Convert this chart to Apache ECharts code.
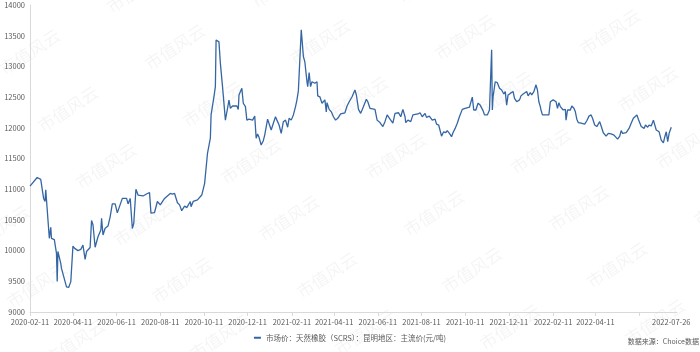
<!DOCTYPE html>
<html>
<head>
<meta charset="utf-8">
<script src="https://cdn.jsdelivr.net/npm/echarts@6/dist/echarts.min.js"></script>
<style>
  html, body { margin: 0; padding: 0; background: #fff; }
  #chart { width: 700px; height: 352px; }
</style>
</head>
<body>
<div id="chart"></div>
<script>
const seriesName = '市场价：天然橡胶（SCRS）：昆明地区：主流价(元/吨)'
const sourceText = '数据来源：Choice数据'
const watermarkText = '市值风云'

const firstDay = '2020-02-11'
const lastDay = '2022-08-03'

// ticks every two months, the last one has no label (the end date is shown instead)
const tickDates = [
  '2020-02-11', '2020-04-11', '2020-06-11', '2020-08-11', '2020-10-11', '2020-12-11',
  '2021-02-11', '2021-04-11', '2021-06-11', '2021-08-11', '2021-10-11', '2021-12-11',
  '2022-02-11', '2022-04-11', '2022-06-11'
]
const labelDates = [
  '2020-02-11', '2020-04-11', '2020-06-11', '2020-08-11', '2020-10-11', '2020-12-11',
  '2021-02-11', '2021-04-11', '2021-06-11', '2021-08-11', '2021-10-11', '2021-12-11',
  '2022-02-11', '2022-04-11', '2022-07-26'
]

const yMin = 9000
const yMax = 14000
const yStep = 500

// 昆明 SCRS 主流价
const prices = [
  ['2020-02-11', 11050], ['2020-02-21', 11190], ['2020-02-26', 11160], ['2020-02-28', 11150], ['2020-03-01', 10850],
  ['2020-03-03', 10800], ['2020-03-04', 10990], ['2020-03-09', 10200], ['2020-03-11', 10380], ['2020-03-12', 10200],
  ['2020-03-16', 10180], ['2020-03-19', 9955], ['2020-03-20', 9495], ['2020-03-21', 9985], ['2020-03-25', 9793],
  ['2020-03-26', 9710], ['2020-03-28', 9740], ['2020-03-31', 9495], ['2020-04-02', 9410], ['2020-04-04', 9440],
  ['2020-04-05', 9400], ['2020-04-08', 9495], ['2020-04-11', 10075], ['2020-04-13', 10040], ['2020-04-18', 10000],
  ['2020-04-22', 10020], ['2020-04-24', 10000], ['2020-04-25', 10090], ['2020-04-27', 10075], ['2020-04-28', 9858],
  ['2020-04-30', 9985], ['2020-05-05', 10050], ['2020-05-07', 10490], ['2020-05-09', 10420], ['2020-05-10', 10445],
  ['2020-05-12', 10055], ['2020-05-16', 10225], ['2020-05-20', 10335], ['2020-05-21', 10525], ['2020-05-23', 10255],
  ['2020-05-26', 10365], ['2020-05-30', 10400], ['2020-06-02', 10550], ['2020-06-05', 10760], ['2020-06-09', 10760],
  ['2020-06-12', 10615], ['2020-06-19', 10850], ['2020-06-25', 10850], ['2020-06-27', 10760], ['2020-06-30', 10850],
  ['2020-07-03', 10360], ['2020-07-05', 10445], ['2020-07-08', 11000], ['2020-07-11', 10905], ['2020-07-18', 10890],
  ['2020-07-20', 10880], ['2020-07-24', 10930], ['2020-07-27', 10945], ['2020-07-29', 10610], ['2020-08-03', 10620],
  ['2020-08-07', 10800], ['2020-08-11', 10745], ['2020-08-17', 10850], ['2020-08-25', 10930], ['2020-08-28', 10920],
  ['2020-08-31', 10930], ['2020-09-04', 10780], ['2020-09-07', 10745], ['2020-09-10', 10650], ['2020-09-14', 10725],
  ['2020-09-17', 10700], ['2020-09-22', 10800], ['2020-09-23', 10715], ['2020-09-26', 10800], ['2020-10-02', 10825],
  ['2020-10-08', 10905], ['2020-10-12', 11095], ['2020-10-16', 11585], ['2020-10-20', 11830], ['2020-10-21', 12210],
  ['2020-10-25', 12505], ['2020-10-27', 12670], ['2020-10-28', 13430], ['2020-10-30', 13455], ['2020-11-01', 13400],
  ['2020-11-03', 13050], ['2020-11-06', 12670], ['2020-11-10', 12125], ['2020-11-13', 12318], ['2020-11-15', 12453],
  ['2020-11-17', 12318], ['2020-11-20', 12355], ['2020-11-26', 12355], ['2020-11-28', 12300], ['2020-11-29', 12535],
  ['2020-12-01', 12590], ['2020-12-03', 12645], ['2020-12-05', 12400], ['2020-12-08', 12345], ['2020-12-10', 12125],
  ['2020-12-13', 12140], ['2020-12-15', 12155], ['2020-12-18', 12125], ['2020-12-21', 12190], ['2020-12-23', 11830],
  ['2020-12-25', 11900], ['2020-12-27', 11845], ['2020-12-30', 11720], ['2021-01-02', 11790], ['2021-01-04', 11885],
  ['2021-01-08', 12140], ['2021-01-10', 12150], ['2021-01-13', 11965], ['2021-01-16', 12075], ['2021-01-19', 12180],
  ['2021-01-21', 12125], ['2021-01-24', 12045], ['2021-01-27', 11910], ['2021-01-30', 12100], ['2021-02-02', 12125],
  ['2021-02-05', 12010], ['2021-02-07', 12155], ['2021-02-10', 12125], ['2021-02-13', 12210], ['2021-02-16', 12345],
  ['2021-02-18', 12455], ['2021-02-19', 12425], ['2021-02-20', 12605], ['2021-02-22', 12615], ['2021-02-24', 13595],
  ['2021-02-27', 13160], ['2021-03-01', 13075], ['2021-03-04', 12750], ['2021-03-05', 12670], ['2021-03-07', 12900],
  ['2021-03-09', 12670], ['2021-03-11', 12750], ['2021-03-15', 12725], ['2021-03-18', 12750], ['2021-03-19', 12520],
  ['2021-03-22', 12505], ['2021-03-25', 12400], ['2021-03-29', 12455], ['2021-03-31', 12260], ['2021-04-01', 12410],
  ['2021-04-04', 12300], ['2021-04-07', 12260], ['2021-04-10', 12180], ['2021-04-13', 12125], ['2021-04-16', 12155],
  ['2021-04-20', 12225], ['2021-04-26', 12245], ['2021-04-29', 12355], ['2021-05-02', 12425], ['2021-05-06', 12505],
  ['2021-05-10', 12615], ['2021-05-12', 12535], ['2021-05-15', 12300], ['2021-05-18', 12235], ['2021-05-20', 12290],
  ['2021-05-26', 12465], ['2021-05-28', 12425], ['2021-05-31', 12318], ['2021-06-07', 12300], ['2021-06-10', 12125],
  ['2021-06-14', 12085], ['2021-06-18', 12020], ['2021-06-21', 12100], ['2021-06-24', 12210], ['2021-06-28', 12140],
  ['2021-07-02', 12075], ['2021-07-05', 12235], ['2021-07-07', 12210], ['2021-07-10', 12245], ['2021-07-13', 12180],
  ['2021-07-16', 12300], ['2021-07-19', 12180], ['2021-07-20', 12085], ['2021-07-23', 12125], ['2021-07-27', 12100],
  ['2021-07-30', 12210], ['2021-08-06', 12225], ['2021-08-09', 12245], ['2021-08-12', 12180], ['2021-08-16', 12235],
  ['2021-08-18', 12170], ['2021-08-22', 12190], ['2021-08-26', 12125], ['2021-08-30', 12140], ['2021-09-01', 12060],
  ['2021-09-04', 12045], ['2021-09-08', 11865], ['2021-09-11', 11935], ['2021-09-14', 11920], ['2021-09-16', 11955],
  ['2021-09-19', 11910], ['2021-09-22', 11855], ['2021-09-24', 11920], ['2021-09-27', 11990], ['2021-09-30', 12075],
  ['2021-10-03', 12180], ['2021-10-07', 12300], ['2021-10-11', 12318], ['2021-10-17', 12335], ['2021-10-21', 12500],
  ['2021-10-23', 12290], ['2021-10-26', 12290], ['2021-10-29', 12400], ['2021-11-01', 12370], ['2021-11-05', 12280],
  ['2021-11-07', 12210], ['2021-11-11', 12210], ['2021-11-14', 12290], ['2021-11-16', 12290], ['2021-11-17', 13270],
  ['2021-11-18', 12290], ['2021-11-19', 12505], ['2021-11-22', 12750], ['2021-11-25', 12735], ['2021-11-28', 12645],
  ['2021-12-01', 12615], ['2021-12-04', 12550], ['2021-12-06', 12590], ['2021-12-08', 12370], ['2021-12-10', 12535],
  ['2021-12-13', 12560], ['2021-12-17', 12590], ['2021-12-19', 12480], ['2021-12-22', 12425], ['2021-12-26', 12455],
  ['2021-12-28', 12520], ['2021-12-31', 12550], ['2022-01-05', 12590], ['2022-01-07', 12520], ['2022-01-10', 12575],
  ['2022-01-12', 12535], ['2022-01-15', 12590], ['2022-01-18', 12700], ['2022-01-20', 12615], ['2022-01-22', 12425],
  ['2022-01-24', 12345], ['2022-01-25', 12290], ['2022-01-27', 12210], ['2022-02-05', 12210], ['2022-02-07', 12425],
  ['2022-02-11', 12455], ['2022-02-15', 12425], ['2022-02-17', 12318], ['2022-02-19', 12410], ['2022-02-21', 12345],
  ['2022-02-25', 12290], ['2022-02-28', 12300], ['2022-03-01', 12125], ['2022-03-03', 12290], ['2022-03-07', 12290],
  ['2022-03-09', 12355], ['2022-03-12', 12318], ['2022-03-14', 12260], ['2022-03-16', 12140], ['2022-03-18', 12085],
  ['2022-03-22', 12075], ['2022-03-24', 12100], ['2022-03-27', 12060], ['2022-03-30', 12115], ['2022-04-02', 12190],
  ['2022-04-05', 12210], ['2022-04-07', 12155], ['2022-04-10', 12045], ['2022-04-13', 12020], ['2022-04-17', 12100],
  ['2022-04-19', 12030], ['2022-04-22', 11920], ['2022-04-26', 11865], ['2022-04-29', 11910], ['2022-05-03', 11900],
  ['2022-05-07', 11880], ['2022-05-12', 11815], ['2022-05-15', 11865], ['2022-05-17', 11955], ['2022-05-19', 11910],
  ['2022-05-24', 11920], ['2022-05-28', 11990], ['2022-05-31', 12075], ['2022-06-03', 12155], ['2022-06-05', 12130],
  ['2022-06-08', 12210], ['2022-06-10', 12140], ['2022-06-12', 12155], ['2022-06-14', 12020], ['2022-06-16', 12050],
  ['2022-06-18', 11990], ['2022-06-20', 12045], ['2022-06-23', 12010], ['2022-06-25', 12045], ['2022-06-28', 12030],
  ['2022-07-01', 12125], ['2022-07-03', 12140], ['2022-07-05', 11965], ['2022-07-07', 11990], ['2022-07-09', 11935],
  ['2022-07-12', 11800], ['2022-07-15', 11755], ['2022-07-17', 11855], ['2022-07-19', 11935], ['2022-07-21', 11775],
  ['2022-07-23', 11910], ['2022-07-26', 12010]
]

// every calendar day on the axis, so spacing follows real time
function buildDays(start, end) {
  const out = []
  const d = new Date(start + 'T00:00:00Z')
  const e = new Date(end + 'T00:00:00Z')
  while (d <= e) {
    out.push(d.toISOString().slice(0, 10))
    d.setUTCDate(d.getUTCDate() + 1)
  }
  return out
}
const days = buildDays(firstDay, lastDay)

// tiled watermark
function buildWatermark() {
  const items = []
  for (let r = -1; r < 7; r++) {
    for (let c = -2; c < 6; c++) {
      const x = 30 + c * 145 + r * 38
      const y = 52 - c * 5 + r * 57
      if (x < -70 || x > 770 || y < -40 || y > 390) continue
      items.push({
        type: 'text', x: x, y: y, rotation: 0.58, silent: true, z: -10,
        style: {
          text: watermarkText, fill: 'rgba(0,0,0,0.045)',
          font: '17px "Noto Sans CJK SC"', align: 'center', verticalAlign: 'middle'
        }
      })
    }
  }
  return items
}

const labelFont = '"Noto Sans CJK SC", "Noto Sans", sans-serif'
const chart = echarts.init(document.getElementById('chart'))
chart.setOption({
  animation: false,
  textStyle: { fontFamily: labelFont },
  grid: { left: 30, right: 23, top: 5, bottom: 40, containLabel: false },
  legend: {
    data: [seriesName], top: 329, left: 'center',
    icon: 'rect', itemWidth: 7, itemHeight: 2, itemGap: 5,
    textStyle: { fontSize: 7.5, color: '#595959', fontFamily: labelFont }
  },
  xAxis: {
    type: 'category', data: days, boundaryGap: false,
    axisLine: { lineStyle: { color: '#d9d9d9', width: 1 } },
    axisTick: {
      length: 4, lineStyle: { color: '#d9d9d9' },
      interval: function (i, v) { return tickDates.indexOf(v) >= 0 }
    },
    axisLabel: {
      color: '#595959', fontSize: 7.5, margin: 6, hideOverlap: false,
      interval: function (i, v) { return labelDates.indexOf(v) >= 0 }
    },
    splitLine: { show: false }
  },
  yAxis: {
    type: 'value', min: yMin, max: yMax, interval: yStep,
    axisLine: { show: true, lineStyle: { color: '#d9d9d9', width: 1 } },
    axisTick: { show: false },
    axisLabel: {
      color: '#595959', fontSize: 7.5, margin: 5,
      formatter: function (v) { return String(v) }
    },
    splitLine: { show: false }
  },
  series: [{
    name: seriesName, type: 'line', data: prices,
    showSymbol: false, symbol: 'none', smooth: false,
    lineStyle: { color: '#3566a4', width: 1.3 },
    itemStyle: { color: '#3566a4' }
  }],
  graphic: buildWatermark().concat([{
    type: 'text', right: 1, top: 338, silent: true,
    style: { text: sourceText, fill: '#595959', font: '7px ' + labelFont }
  }])
})
</script>
</body>
</html>
